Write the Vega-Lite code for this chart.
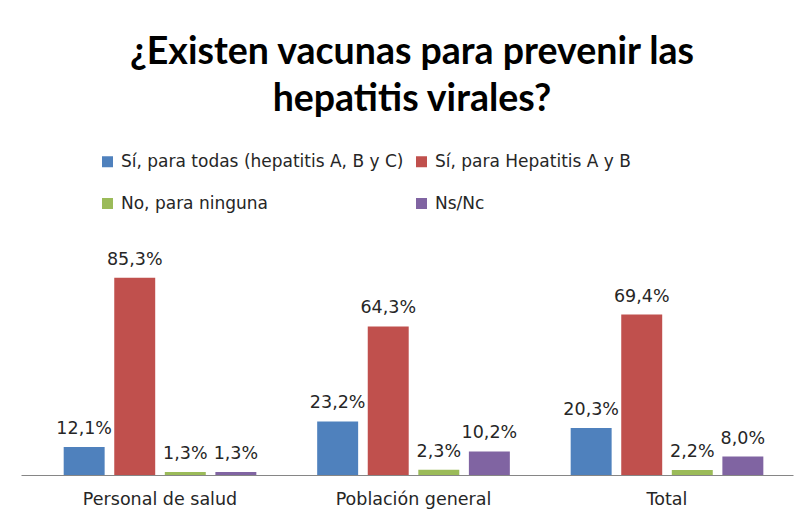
{
  "$schema": "https://vega.github.io/schema/vega-lite/v6.json",
  "autosize": "none",
  "padding": {"left": 21, "top": 267, "right": 13, "bottom": 49},
  "width": 772,
  "height": 208,
  "background": "white",
  "title": {
    "text": ["¿Existen vacunas para prevenir las", "hepatitis virales?"],
    "anchor": "middle",
    "frame": "group",
    "orient": "top",
    "offset": 35,
    "dx": 5,
    "font": "Lato",
    "fontSize": 37.5,
    "fontWeight": "bold",
    "lineHeight": 47,
    "color": "#000000"
  },
  "data": {
    "values": [
      {"grupo": "Personal de salud", "respuesta": "Sí, para todas (hepatitis A, B y C)", "valor": 0.121},
      {"grupo": "Personal de salud", "respuesta": "Sí, para Hepatitis A y B", "valor": 0.853},
      {"grupo": "Personal de salud", "respuesta": "No, para ninguna", "valor": 0.013},
      {"grupo": "Personal de salud", "respuesta": "Ns/Nc", "valor": 0.013},
      {"grupo": "Población general", "respuesta": "Sí, para todas (hepatitis A, B y C)", "valor": 0.232},
      {"grupo": "Población general", "respuesta": "Sí, para Hepatitis A y B", "valor": 0.643},
      {"grupo": "Población general", "respuesta": "No, para ninguna", "valor": 0.023},
      {"grupo": "Población general", "respuesta": "Ns/Nc", "valor": 0.102},
      {"grupo": "Total", "respuesta": "Sí, para todas (hepatitis A, B y C)", "valor": 0.203},
      {"grupo": "Total", "respuesta": "Sí, para Hepatitis A y B", "valor": 0.694},
      {"grupo": "Total", "respuesta": "No, para ninguna", "valor": 0.022},
      {"grupo": "Total", "respuesta": "Ns/Nc", "valor": 0.080}
    ]
  },
  "encoding": {
    "x": {
      "field": "grupo",
      "type": "nominal",
      "sort": null,
      "scale": {"paddingInner": 0.24, "paddingOuter": 0.1427, "align": 0.59},
      "axis": {
        "title": null,
        "labelAngle": 0,
        "ticks": false,
        "labelFont": "DejaVu Sans",
        "labelFontSize": 17.5,
        "labelColor": "#262626",
        "labelPadding": 15,
        "domainColor": "#868686",
        "domainWidth": 1,
        "grid": false
      }
    },
    "xOffset": {
      "field": "respuesta",
      "type": "nominal",
      "sort": null,
      "scale": {"paddingInner": 0.19, "paddingOuter": 0}
    },
    "y": {
      "field": "valor",
      "type": "quantitative",
      "scale": {"domain": [0, 0.9]},
      "axis": null
    }
  },
  "layer": [
    {
      "mark": {"type": "bar"},
      "encoding": {
        "color": {
          "field": "respuesta",
          "type": "nominal",
          "sort": null,
          "scale": {
            "domain": ["Sí, para todas (hepatitis A, B y C)", "Sí, para Hepatitis A y B", "No, para ninguna", "Ns/Nc"],
            "range": ["#4F81BD", "#C0504D", "#9BBB59", "#8064A2"]
          },
          "legend": {
            "title": null,
            "orient": "none",
            "legendX": 78,
            "legendY": -114,
            "direction": "horizontal",
            "columns": 2,
            "columnPadding": 9,
            "rowPadding": 24,
            "padding": 0,
            "symbolType": "square",
            "symbolSize": 121,
            "symbolStrokeWidth": 0,
            "labelOffset": 5,
            "labelFont": "DejaVu Sans",
            "labelFontSize": 17,
            "labelColor": "#262626",
            "labelLimit": 400
          }
        }
      }
    },
    {
      "mark": {
        "type": "text",
        "baseline": "alphabetic",
        "dy": -13,
        "font": "DejaVu Sans",
        "fontSize": 17.5,
        "color": "#262626"
      },
      "encoding": {
        "text": {"field": "valor", "type": "quantitative", "format": ".1%"}
      }
    }
  ],
  "config": {
    "view": {"stroke": null},
    "locale": {
      "number": {"decimal": ",", "thousands": ".", "grouping": [3], "currency": ["", " €"]}
    }
  }
}
